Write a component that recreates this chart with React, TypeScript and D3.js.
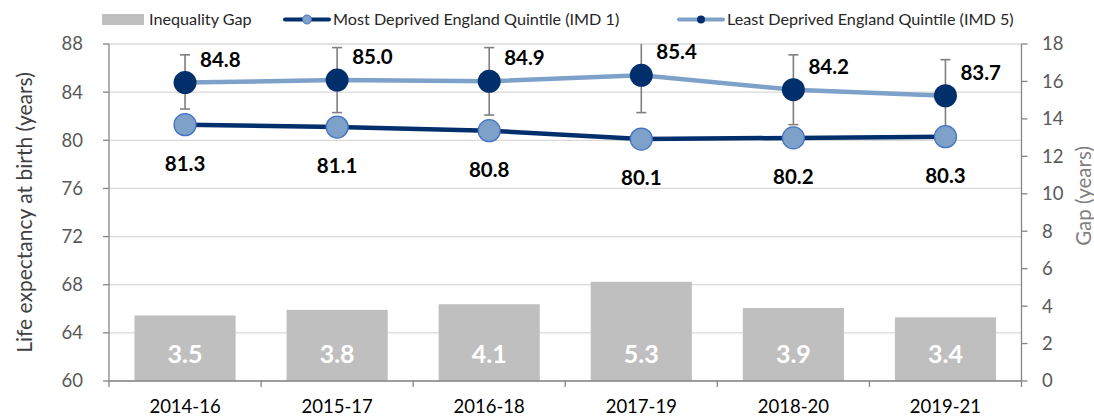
import React from 'react';
import * as d3 from 'd3';

// chart data
const periods = ['2014-16', '2015-17', '2016-18', '2017-19', '2018-20', '2019-21'];
const mostDeprived = [81.3, 81.1, 80.8, 80.1, 80.2, 80.3];
const leastDeprived = [84.8, 85.0, 84.9, 85.4, 84.2, 83.7];
const leastLower = [82.6, 82.3, 82.1, 82.3, 81.3, 80.7];
const leastUpper = [87.1, 87.7, 87.7, 88.5, 87.1, 86.7];
const gap = [3.5, 3.8, 4.1, 5.3, 3.9, 3.4];
const leftTicks = [60, 64, 68, 72, 76, 80, 84, 88];
const rightTicks = [0, 2, 4, 6, 8, 10, 12, 14, 16, 18];

const W = 1094;
const H = 417;
const font = 'Lato, "Open Sans", sans-serif';
const navy = '#002f6c';
const lightBlue = '#7ea1c9';

export default function App() {
  const left = 109;
  const right = 1021.5;
  const top = 44;
  const bottom = 381;

  const x = d3.scaleBand().domain(periods).range([left, right]).paddingInner(0.335).paddingOuter(0.1675);
  const cx = (i: number) => (x(periods[i]) as number) + x.bandwidth() / 2;
  const y = d3.scaleLinear().domain([60, 88]).range([bottom, top]);
  const y2 = d3.scaleLinear().domain([0, 18]).range([bottom, top]);

  const line = (vals: number[]) =>
    d3.line<number>().x((d, i) => cx(i)).y((d) => y(d))(vals) as string;

  const clampY = (v: number) => y(Math.min(88, v));
  const step = x.step();

  return (
    <div style={{ position: 'absolute', left: 0, top: 0 }}>
      <svg width={W} height={H} style={{ display: 'block', fontFamily: font }}>
        <rect width={W} height={H} fill="#fff" />

        {/* gridlines */}
        {leftTicks.map((t) => (
          <line key={t} x1={left} x2={right} y1={y(t)} y2={y(t)} stroke="#d9d9d9" strokeWidth={1.3} />
        ))}

        {/* gap bars */}
        {gap.map((g, i) => (
          <rect key={i} x={x(periods[i])} y={y2(g)} width={x.bandwidth()} height={bottom - y2(g)} fill="#bfbfbf" />
        ))}
        {gap.map((g, i) => (
          <text key={i} x={cx(i)} y={362.5} textAnchor="middle" fontSize={25} fontWeight={700} fill="#fff">
            {g.toFixed(1)}
          </text>
        ))}

        {/* axes */}
        <line x1={left} x2={left} y1={top} y2={bottom} stroke="#868686" strokeWidth={1.3} />
        <line x1={right} x2={right} y1={top} y2={bottom} stroke="#868686" strokeWidth={1.3} />
        <line x1={left} x2={right} y1={bottom} y2={bottom} stroke="#868686" strokeWidth={1.3} />
        {leftTicks.map((t) => (
          <g key={t}>
            <line x1={left - 6} x2={left} y1={y(t)} y2={y(t)} stroke="#868686" strokeWidth={1.3} />
            <text x={83} y={y(t)} dy="0.35em" textAnchor="end" fontSize={18.5} fill="#595959">{t}</text>
          </g>
        ))}
        {rightTicks.map((t) => (
          <g key={t}>
            <line x1={right} x2={right + 6} y1={y2(t)} y2={y2(t)} stroke="#868686" strokeWidth={1.3} />
            <text x={1042} y={y2(t)} dy="0.35em" fontSize={18.5} fill="#595959">{t}</text>
          </g>
        ))}
        {d3.range(periods.length + 1).map((i) => (
          <line key={i} x1={left + i * step} x2={left + i * step} y1={bottom} y2={bottom + 6} stroke="#868686" strokeWidth={1.3} />
        ))}
        {periods.map((p, i) => (
          <text key={p} x={cx(i)} y={413} textAnchor="middle" fontSize={18.5} fill="#000">{p}</text>
        ))}

        <text transform={`translate(32,${(top + bottom) / 2}) rotate(-90)`} textAnchor="middle" fontSize={21} fill="#404040">
          Life expectancy at birth (years)
        </text>
        <text transform={`translate(1091,196) rotate(-90)`} textAnchor="middle" fontSize={20.5} fill="#7f7f7f">
          Gap (years)
        </text>

        {/* error bars for least deprived */}
        {leastDeprived.map((v, i) => (
          <g key={i} stroke="#7f7f7f" strokeWidth={1.6}>
            <line x1={cx(i)} x2={cx(i)} y1={clampY(leastUpper[i])} y2={y(leastLower[i])} />
            {leastUpper[i] <= 88 && (
              <line x1={cx(i) - 5} x2={cx(i) + 5} y1={y(leastUpper[i])} y2={y(leastUpper[i])} />
            )}
            <line x1={cx(i) - 5} x2={cx(i) + 5} y1={y(leastLower[i])} y2={y(leastLower[i])} />
          </g>
        ))}

        {/* lines */}
        <path d={line(leastDeprived)} fill="none" stroke={lightBlue} strokeWidth={4.5} />
        <path d={line(mostDeprived)} fill="none" stroke={navy} strokeWidth={4.5} />

        {/* markers */}
        {mostDeprived.map((v, i) => (
          <circle key={i} cx={cx(i)} cy={y(v)} r={11} fill={lightBlue} stroke="#4472c4" strokeWidth={1.3} />
        ))}
        {leastDeprived.map((v, i) => (
          <circle key={i} cx={cx(i)} cy={y(v)} r={11.5} fill={navy} />
        ))}

        {/* data labels */}
        {leastDeprived.map((v, i) => (
          <text key={i} x={cx(i) + 15} y={y(v) - 16} fontSize={20.5} fontWeight={700} fill="#000">{v.toFixed(1)}</text>
        ))}
        {mostDeprived.map((v, i) => (
          <text key={i} x={cx(i)} y={y(v) + 46} textAnchor="middle" fontSize={20.5} fontWeight={700} fill="#000">{v.toFixed(1)}</text>
        ))}

        {/* legend */}
        <rect x={102} y={14} width={42} height={11} fill="#bfbfbf" />
        <text x={149} y={19.5} dy="0.35em" fontSize={16.2} fill="#262626">Inequality Gap</text>
        <line x1={285} x2={329} y1={19.5} y2={19.5} stroke={navy} strokeWidth={4} strokeLinecap="round" />
        <circle cx={307} cy={19.5} r={4.5} fill={lightBlue} stroke="#4472c4" strokeWidth={1} />
        <text x={333} y={19.5} dy="0.35em" fontSize={16.2} fill="#262626">Most Deprived England Quintile (IMD 1)</text>
        <line x1={679} x2={723} y1={19.5} y2={19.5} stroke={lightBlue} strokeWidth={4} strokeLinecap="round" />
        <circle cx={701} cy={19.5} r={4} fill={navy} />
        <text x={727} y={19.5} dy="0.35em" fontSize={16.2} fill="#262626">Least Deprived England Quintile (IMD 5)</text>
      </svg>
    </div>
  );
}
